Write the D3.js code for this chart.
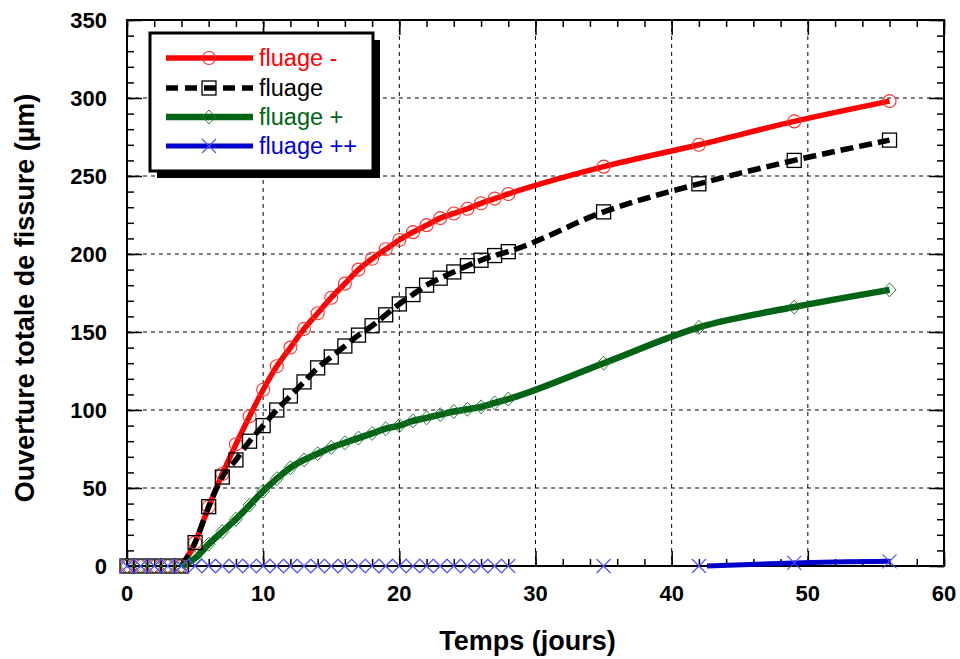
<!DOCTYPE html>
<html>
<head>
<meta charset="utf-8">
<script src="https://cdn.jsdelivr.net/npm/d3@7"></script>
<style>
  body { margin: 0; background: #fff; }
  svg { display: block; font-family: "Liberation Sans", Arial, sans-serif; }
</style>
</head>
<body>
<svg id="chart" width="960" height="659"></svg>
<script>
// ---- data ----
const days = [0,1,2,3,4,5,6,7,8,9,10,11,12,13,14,15,16,17,18,19,20,21,22,23,24,25,26,27,28,35,42,49,56];
const fluageMoins = [0,0,0,0,0,15,38,59,78,96,113,128,140,152,162,172,181,190,197,203,209,214,218.5,223,226,229,232.5,235.5,238.5,256,270,285,298];
const fluage      = [0,0,0,0,0,15,38,57,68,80,90,100,109,118,127,134,141,148,154,161,168,174,180,184.5,188.5,192.5,196,199,201.5,227,245,260,273];
const fluagePlus  = [0,0,0,0,0,5,14,22,30,39,48,56,63,68,72,76,79,82,85,88,90,93,95,97,99,100.5,102,104.5,107,130,153,166,177];
const fluagePP    = [0,0,0,0,0,0,0,0,0,0,0,0,0,0,0,0,0,0,0,0,0,0,0,0,0,0,0,0,0,0,0,2,3];
const lineStartDay = 4;               // curves start rising after day 4
const blueLineDays = [42.6, 49, 56];  // visible part of the "fluage ++" curve
const blueLineVals = [0, 2, 3];
const xTicks = [0,10,20,30,40,50,60];
const yTicks = [0,50,100,150,200,250,300,350];
const seriesNames = ["fluage -", "fluage", "fluage +", "fluage ++"];

// ---- layout ----
const svg = d3.select("#chart");
const L = 127, R = 944, T = 20, B = 566;
const x = d3.scaleLinear().domain([0, 60]).range([L, R]);
const y = d3.scaleLinear().domain([0, 350]).range([B, T]);

// grid
const grid = svg.append("g");
grid.selectAll("line.gx").data(xTicks.slice(1, -1)).enter().append("line")
  .attr("x1", d => x(d)).attr("x2", d => x(d)).attr("y1", T).attr("y2", B)
  .attr("stroke", "#000").attr("stroke-width", 1).attr("stroke-dasharray", "4,4");
grid.selectAll("line.gy").data(yTicks.slice(1, -1)).enter().append("line")
  .attr("x1", L).attr("x2", R).attr("y1", d => y(d)).attr("y2", d => y(d))
  .attr("stroke", "#000").attr("stroke-width", 1).attr("stroke-dasharray", "4,4");

// axes with inward ticks on all four sides
const xMinor = d3.range(0, 61, 2);
const yMinor = d3.range(0, 351, 10);
function addAxis(axisFn, scale, minor, major, transform) {
  const gMinor = svg.append("g").attr("transform", transform)
    .call(axisFn(scale).tickValues(minor).tickSize(-7).tickFormat(""));
  const gMajor = svg.append("g").attr("transform", transform)
    .call(axisFn(scale).tickValues(major).tickSize(-15).tickFormat(""));
  [gMinor, gMajor].forEach(g => {
    g.selectAll(".domain").remove();
    g.selectAll(".tick line").attr("stroke", "#000").attr("stroke-width", 1.5);
  });
}
addAxis(d3.axisBottom, x, xMinor, xTicks, `translate(0,${B})`);
addAxis(d3.axisTop, x, xMinor, xTicks, `translate(0,${T})`);
addAxis(d3.axisLeft, y, yMinor, yTicks, `translate(${L},0)`);
addAxis(d3.axisRight, y, yMinor, yTicks, `translate(${R},0)`);

// frame
svg.append("rect").attr("x", L).attr("y", T).attr("width", R - L).attr("height", B - T)
  .attr("fill", "none").attr("stroke", "#000").attr("stroke-width", 2);

// tick labels
svg.append("g").selectAll("text").data(xTicks).enter().append("text")
  .attr("x", d => x(d)).attr("y", 601).attr("text-anchor", "middle")
  .attr("font-size", 22).attr("font-weight", "bold").text(d => d);
svg.append("g").selectAll("text").data(yTicks).enter().append("text")
  .attr("x", 107).attr("y", d => y(d) + 8).attr("text-anchor", "end")
  .attr("font-size", 22).attr("font-weight", "bold").text(d => d);

// axis titles
svg.append("text").attr("x", (L + R) / 2 - 8).attr("y", 650).attr("text-anchor", "middle")
  .attr("font-size", 27).attr("font-weight", "bold").text("Temps (jours)");
svg.append("text").attr("transform", "translate(34,298) rotate(-90)").attr("text-anchor", "middle")
  .attr("font-size", 27).attr("font-weight", "bold").text("Ouverture totale de fissure (µm)");

// ---- series ----
const styles = [
  { vals: fluageMoins, color: "#ff0000", mcolor: "#ff3030", width: 5.5, dash: null, marker: "circle" },
  { vals: fluage,      color: "#000000", mcolor: "#000000", width: 5.5, dash: "13,6", marker: "square" },
  { vals: fluagePlus,  color: "#006414", mcolor: "#2a7a38", width: 6.5, dash: null, marker: "diamond" },
  { vals: fluagePP,    color: "#0000cc", mcolor: "#4a4aff", width: 5,   dash: null, marker: "cross" }
];

const line = d3.line().x(d => x(d[0])).y(d => y(d[1])).curve(d3.curveMonotoneX);
const plot = svg.append("g");

styles.forEach((s, i) => {
  let pts;
  if (i === 3) pts = blueLineDays.map((d, k) => [d, blueLineVals[k]]);
  else pts = days.map((d, k) => [d, s.vals[k]]).filter(p => p[0] >= lineStartDay);
  plot.append("path").attr("d", line(pts)).attr("fill", "none")
    .attr("stroke", s.color).attr("stroke-width", s.width)
    .attr("stroke-dasharray", s.dash).attr("stroke-linecap", "butt").attr("stroke-linejoin", "round");
});

function drawMarker(g, type, cx, cy, color) {
  if (type === "circle") {
    g.append("circle").attr("cx", cx).attr("cy", cy).attr("r", 6.5)
      .attr("fill", "none").attr("stroke", color).attr("stroke-width", 1.1);
  } else if (type === "square") {
    g.append("rect").attr("x", cx - 7).attr("y", cy - 7).attr("width", 14).attr("height", 14)
      .attr("fill", "none").attr("stroke", color).attr("stroke-width", 1.3);
  } else if (type === "diamond") {
    g.append("path").attr("d", `M${cx},${cy - 7}L${cx + 6.5},${cy}L${cx},${cy + 7}L${cx - 6.5},${cy}Z`)
      .attr("fill", "none").attr("stroke", color).attr("stroke-width", 1);
  } else {
    g.append("path").attr("d", `M${cx - 7},${cy - 7}L${cx + 7},${cy + 7}M${cx - 7},${cy + 7}L${cx + 7},${cy - 7}`)
      .attr("fill", "none").attr("stroke", color).attr("stroke-width", 1.1);
  }
}

styles.forEach(s => {
  const g = plot.append("g");
  days.forEach((d, k) => drawMarker(g, s.marker, x(d), y(s.vals[k]), s.mcolor));
});

// ---- legend ----
const lg = svg.append("g");
const lx = 150, ly = 33, lw = 223, lh = 138;
lg.append("rect").attr("x", lx + 7).attr("y", ly + 7).attr("width", lw).attr("height", lh).attr("fill", "#000");
lg.append("rect").attr("x", lx).attr("y", ly).attr("width", lw).attr("height", lh)
  .attr("fill", "#fff").attr("stroke", "#000").attr("stroke-width", 3);
const rowY = [58, 88, 117, 146];
styles.forEach((s, i) => {
  lg.append("line").attr("x1", 166).attr("x2", 253).attr("y1", rowY[i]).attr("y2", rowY[i])
    .attr("stroke", s.color).attr("stroke-width", s.width).attr("stroke-dasharray", s.dash ? "12,7" : null);
  drawMarker(lg, s.marker, 209, rowY[i], s.mcolor);
  lg.append("text").attr("x", 259).attr("y", rowY[i] + 8).attr("font-size", 23.5)
    .attr("fill", s.color === "#000000" ? "#000" : (i === 3 ? "#0000dd" : s.color)).text(seriesNames[i]);
});
</script>
</body>
</html>
